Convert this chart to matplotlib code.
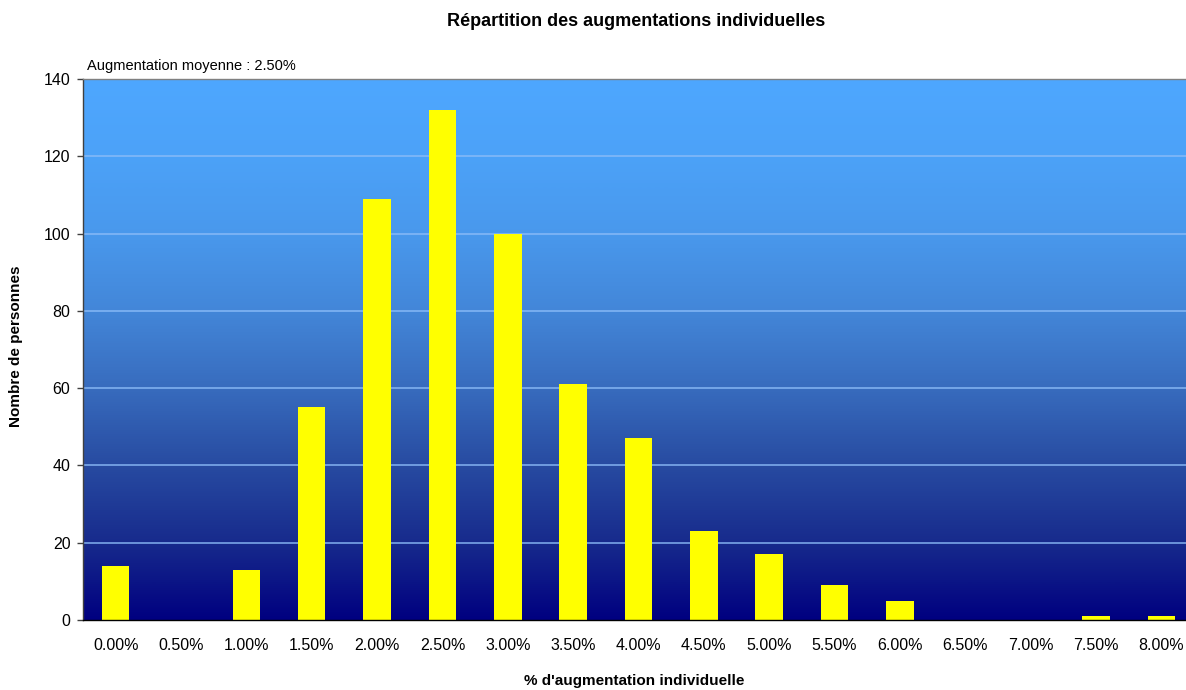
import numpy as np
import matplotlib
matplotlib.use("Agg")
import matplotlib.pyplot as plt
from matplotlib.colors import LinearSegmentedColormap

plt.rcParams['font.family'] = ['Liberation Sans', 'DejaVu Sans']

# Distribution of individual raises
categories = ["0.00%", "0.50%", "1.00%", "1.50%", "2.00%", "2.50%", "3.00%", "3.50%",
              "4.00%", "4.50%", "5.00%", "5.50%", "6.00%", "6.50%", "7.00%", "7.50%", "8.00%"]
counts = [14, 0, 13, 55, 109, 132, 100, 61, 47, 23, 17, 9, 5, 0, 0, 1, 1]
y_ticks = [0, 20, 40, 60, 80, 100, 120, 140]

title = "Répartition des augmentations individuelles"
x_label = "% d'augmentation individuelle"
y_label = "Nombre de personnes"
note = "Augmentation moyenne : 2.50%"

W, H = 1186, 690
fig = plt.figure(figsize=(W / 100, H / 100), dpi=100)
left, right, top, bottom = 83, 1194, 79, 620
ax = fig.add_axes([left / W, 1 - bottom / H, (right - left) / W, (bottom - top) / H])

x = np.arange(len(categories))
xmin, xmax = -0.5, len(categories) - 0.5
ymin, ymax = 0, 140

# vertical gradient background: navy at the bottom to light blue at the top
cmap = LinearSegmentedColormap.from_list("bg", [
    (0.00, "#000080"),
    (0.14, "#172A8C"),
    (0.29, "#284CA2"),
    (0.43, "#386CBE"),
    (0.57, "#4386D8"),
    (0.71, "#4998EC"),
    (0.86, "#4CA2F8"),
    (1.00, "#4EA7FF"),
])
grad = np.linspace(0, 1, 512).reshape(-1, 1)
ax.imshow(grad, cmap=cmap, origin="lower", aspect="auto",
          extent=[xmin, xmax, ymin, ymax], zorder=0, interpolation="bilinear")

for yt in y_ticks[1:-1]:
    ax.axhline(yt, color="#8CBCF8", lw=1.2, alpha=0.85, zorder=1)

ax.bar(x, counts, width=0.42, color="#FFFF00", edgecolor="none", zorder=2)

ax.set_xlim(xmin, xmax)
ax.set_ylim(ymin, ymax)
ax.set_xticks(x)
ax.set_xticklabels(categories, fontsize=11.5)
ax.set_yticks(y_ticks)
ax.set_yticklabels([str(v) for v in y_ticks], fontsize=11.5)
ax.tick_params(axis="x", length=0, pad=13)
ax.tick_params(axis="y", length=4, width=1, color="#404040", pad=5, direction="out")

ax.spines["left"].set_color("#404040")
ax.spines["bottom"].set_color("#000000")
ax.spines["top"].set_color("#808080")
ax.spines["right"].set_visible(False)
for s in ax.spines.values():
    s.set_linewidth(1.0)

fig.text(636 / W, 1 - 21 / H, title, ha="center", va="center", fontsize=13, fontweight="bold")
fig.text(634 / W, 1 - 681 / H, x_label, ha="center", va="center", fontsize=11, fontweight="bold")
fig.text(16 / W, 1 - 346 / H, y_label, ha="center", va="center", rotation=90,
         fontsize=11, fontweight="bold")
fig.text(87 / W, 1 - 66 / H, note, ha="left", va="center", fontsize=10.5)

fig.savefig("out.png", dpi=100)
